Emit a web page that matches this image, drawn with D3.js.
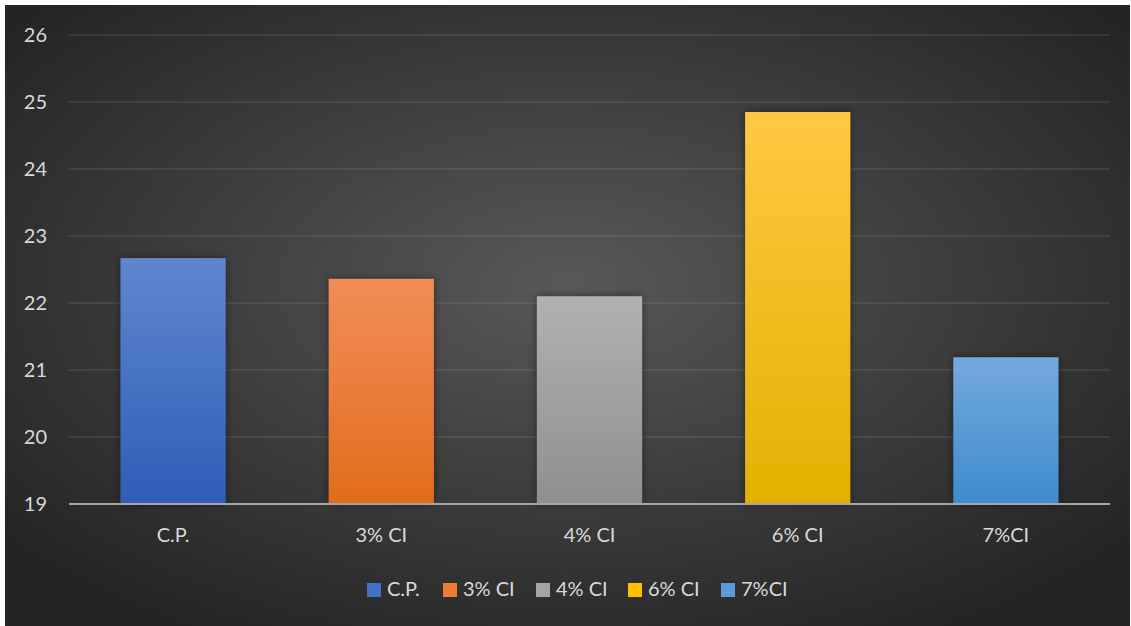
<!DOCTYPE html>
<html>
<head>
<meta charset="utf-8">
<script src="https://cdn.jsdelivr.net/npm/d3@7"></script>
<style>
  html, body { margin: 0; padding: 0; background: #ffffff; }
  svg { display: block; }
</style>
</head>
<body>
<svg id="chart" width="1131" height="626"></svg>
<script>
// Categories and their values
const categories = ["C.P.", "3% CI", "4% CI", "6% CI", "7%CI"];
const values = [22.67, 22.36, 22.10, 24.85, 21.19];
const yTicks = [19, 20, 21, 22, 23, 24, 25, 26];
// Fill gradient stops (top, bottom) for each bar
const barTop = ["#5f86cf", "#f18d58", "#b1b1b1", "#ffc843", "#74a9dd"];
const barBottom = ["#2f5db7", "#e36c1c", "#8f8f8f", "#e2b100", "#3f8bcd"];
const swatch = ["#4472c4", "#ed7d31", "#a5a5a5", "#ffc000", "#5b9bd5"];

const W = 1131, H = 626;
const svg = d3.select("#chart");
const defs = svg.append("defs");

// Dark radial background
const bg = defs.append("radialGradient").attr("id", "bg")
  .attr("cx", "50%").attr("cy", "45%").attr("r", "65%")
  .attr("gradientUnits", "objectBoundingBox");
bg.append("stop").attr("offset", "0%").attr("stop-color", "#585858");
bg.append("stop").attr("offset", "100%").attr("stop-color", "#242424");

categories.forEach((c, i) => {
  const g = defs.append("linearGradient").attr("id", "bar" + i)
    .attr("x1", 0).attr("y1", 0).attr("x2", 0).attr("y2", 1);
  g.append("stop").attr("offset", "0%").attr("stop-color", barTop[i]);
  g.append("stop").attr("offset", "100%").attr("stop-color", barBottom[i]);
});

const shadow = defs.append("filter").attr("id", "shadow")
  .attr("x", "-20%").attr("y", "-20%").attr("width", "140%").attr("height", "140%");
shadow.append("feDropShadow").attr("dx", 0).attr("dy", 0)
  .attr("stdDeviation", 4).attr("flood-color", "#000").attr("flood-opacity", 0.45);

svg.append("rect").attr("x", 5).attr("y", 5).attr("width", W - 6).attr("height", H - 5)
  .attr("fill", "url(#bg)");

const plot = { left: 69, right: 1110, top: 35, bottom: 504 };
const x = d3.scaleBand().domain(categories).range([plot.left, plot.right])
  .paddingInner(0.495).paddingOuter(0.2475);
const y = d3.scaleLinear().domain([19, 26]).range([plot.bottom, plot.top]);

const font = "Lato, 'Open Sans', sans-serif";
const fontSize = 20;

// Gridlines
svg.append("g").selectAll("line").data(yTicks.filter(t => t !== 19)).join("line")
  .attr("x1", plot.left).attr("x2", plot.right)
  .attr("y1", d => y(d)).attr("y2", d => y(d))
  .attr("stroke", "#ffffff").attr("stroke-opacity", 0.08).attr("stroke-width", 2);

// Y axis labels
const yAxis = svg.append("g").attr("transform", `translate(${plot.left},0)`)
  .call(d3.axisLeft(y).tickValues(yTicks).tickSize(0).tickPadding(22).tickFormat(d3.format("d")));
yAxis.select(".domain").remove();
yAxis.selectAll("text").attr("fill", "#d9d9d9").attr("font-size", fontSize).attr("font-family", font);

// Bars
svg.append("g").selectAll("rect").data(values).join("rect")
  .attr("x", (d, i) => x(categories[i]))
  .attr("y", d => y(d))
  .attr("width", x.bandwidth())
  .attr("height", d => y(19) - y(d))
  .attr("fill", (d, i) => `url(#bar${i})`)
  .attr("filter", "url(#shadow)");

// Baseline
svg.append("line").attr("x1", plot.left).attr("x2", plot.right)
  .attr("y1", y(19)).attr("y2", y(19))
  .attr("stroke", "#a6a6a6").attr("stroke-width", 2);

// X axis labels
const xAxis = svg.append("g").attr("transform", `translate(0,${plot.bottom})`)
  .call(d3.axisBottom(x).tickSize(0).tickPadding(24));
xAxis.select(".domain").remove();
xAxis.selectAll("text").attr("fill", "#d9d9d9").attr("font-size", fontSize).attr("font-family", font);

// Legend
const legendX = [367, 443, 536, 628, 721];
const legend = svg.append("g");
categories.forEach((c, i) => {
  const g = legend.append("g").attr("transform", `translate(${legendX[i]},583)`);
  g.append("rect").attr("width", 14).attr("height", 14).attr("fill", swatch[i]);
  g.append("text").attr("x", 20).attr("y", 13).text(c)
    .attr("fill", "#d9d9d9").attr("font-size", fontSize).attr("font-family", font);
});
</script>
</body>
</html>
